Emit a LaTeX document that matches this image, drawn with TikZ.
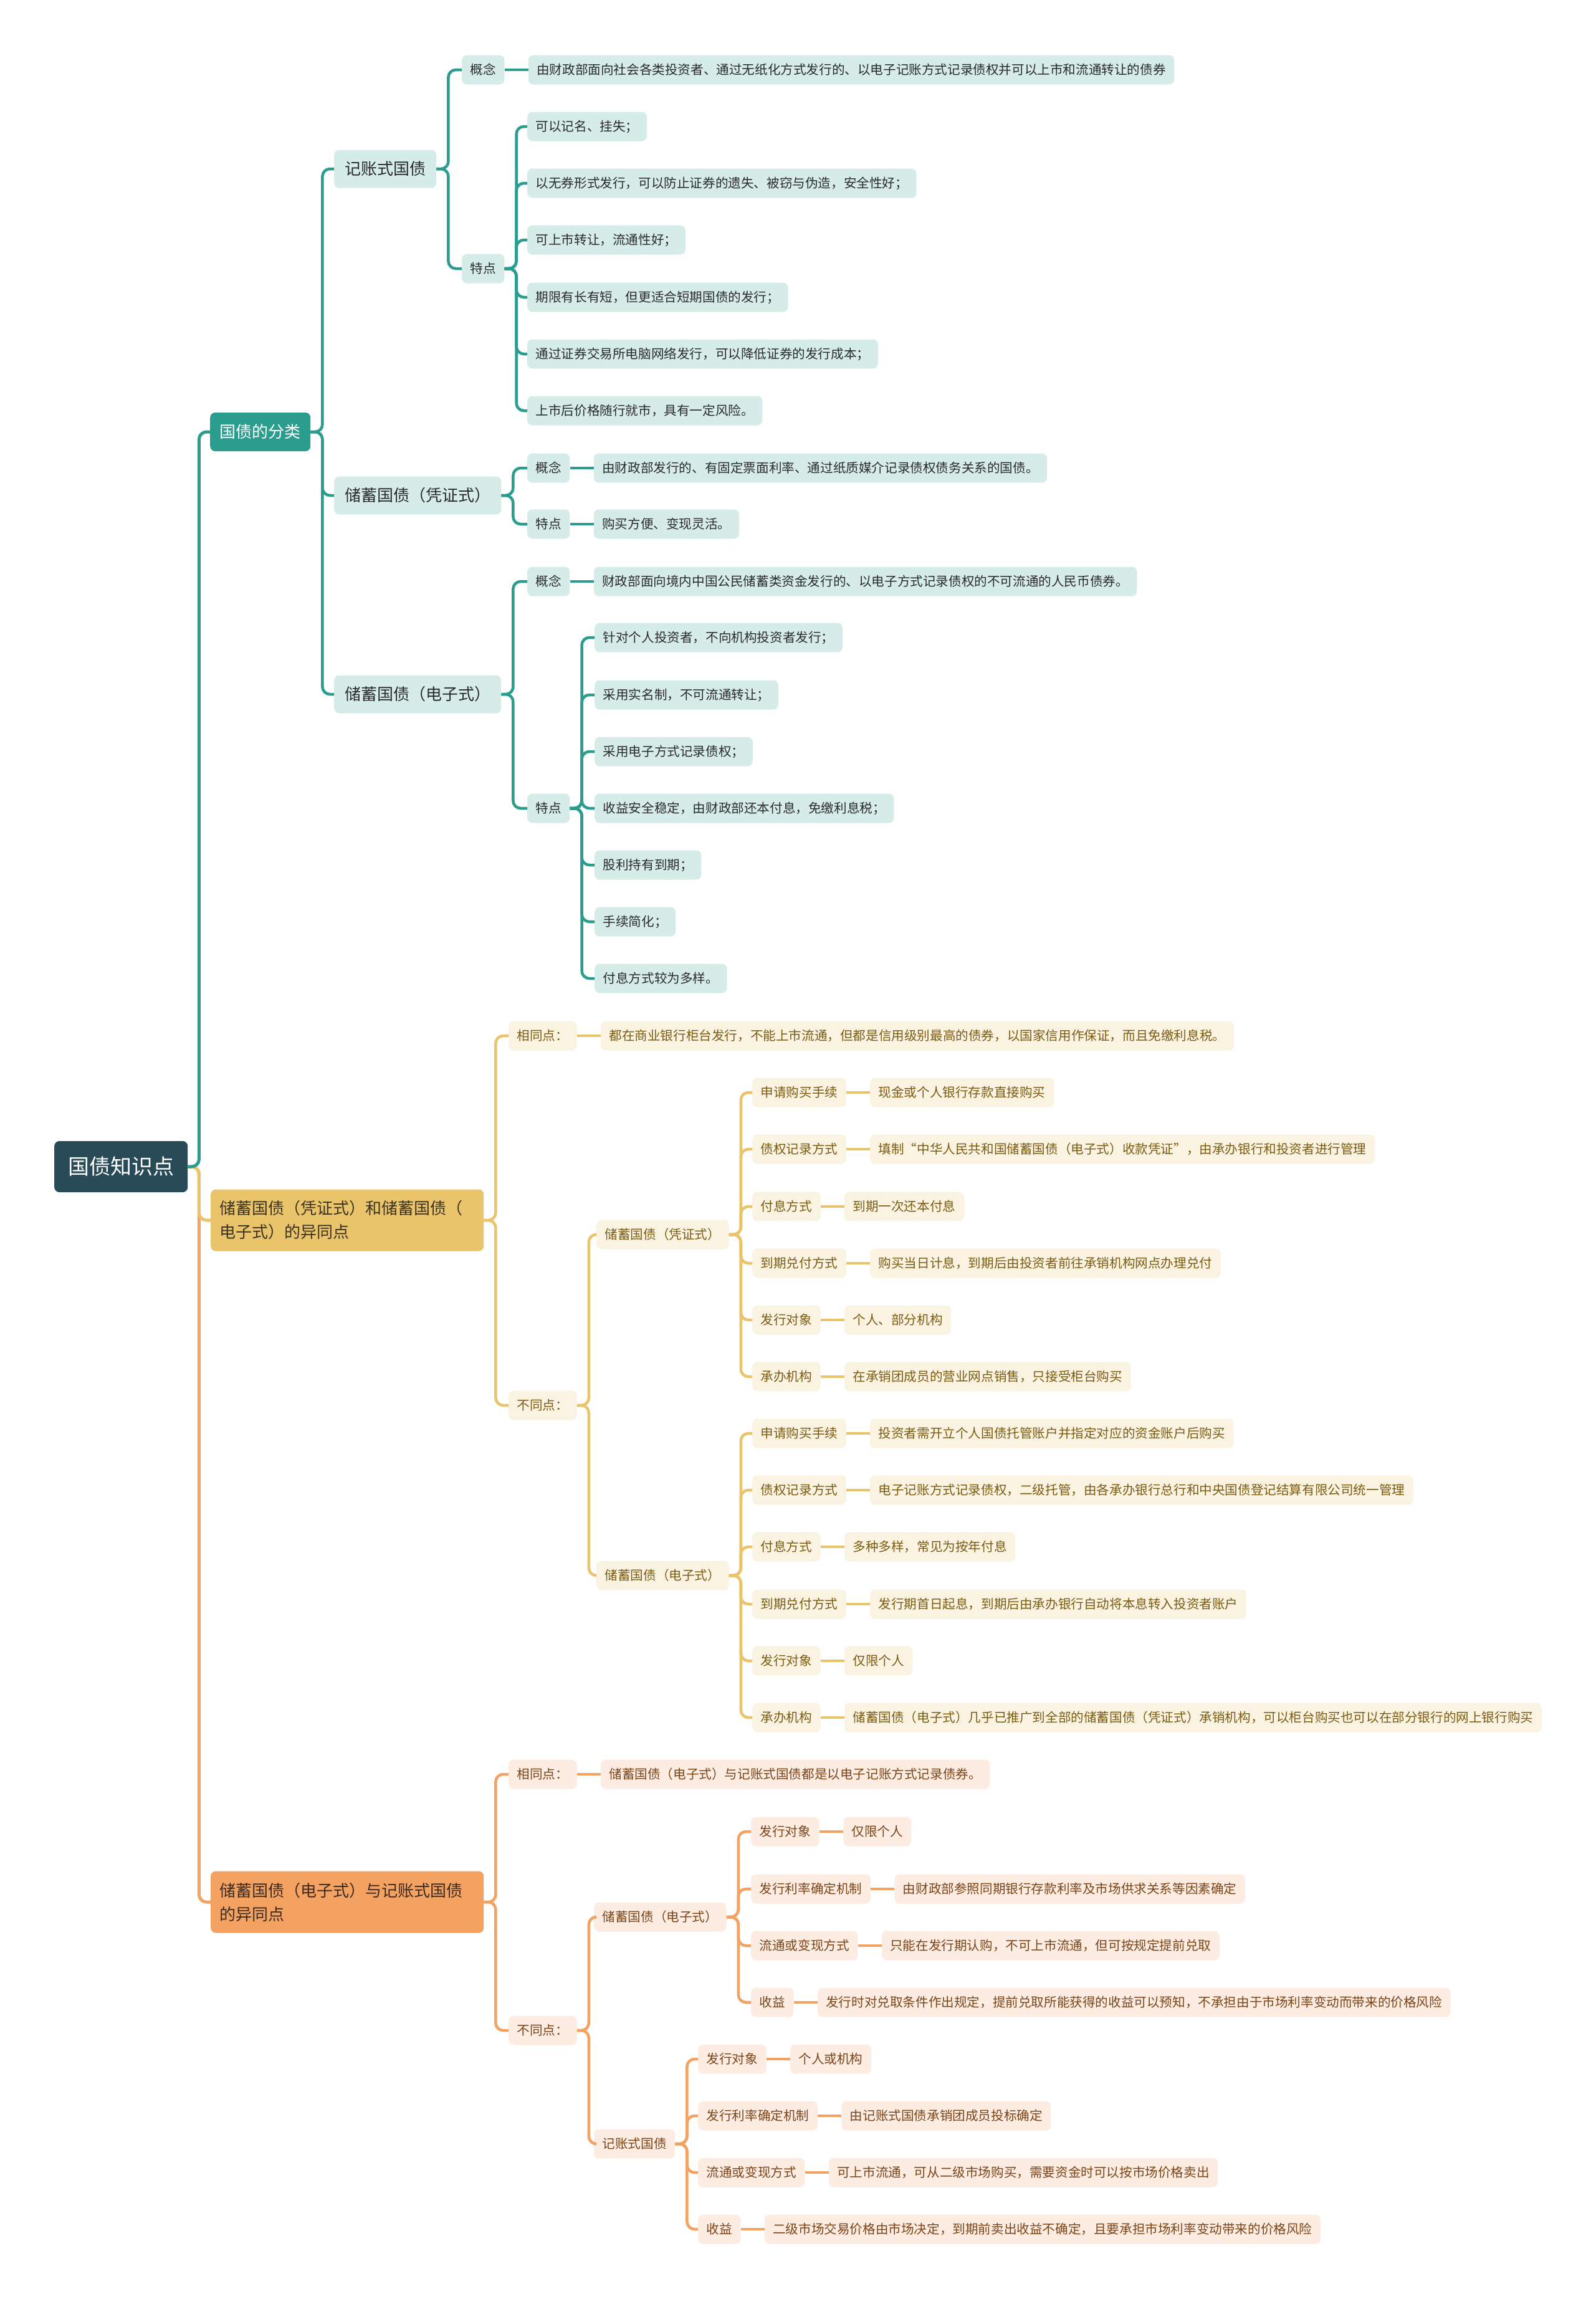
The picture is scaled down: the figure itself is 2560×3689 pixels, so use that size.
\documentclass[tikz,border=0pt]{standalone}
\usepackage{fontspec}
\newfontfamily\cjk{Noto Sans CJK SC}
\definecolor{cRoot}{HTML}{284B57}
\definecolor{cTeal}{HTML}{2A9D8F}
\definecolor{cTealL}{HTML}{D6ECE9}
\definecolor{cTealT}{HTML}{2B2B2B}
\definecolor{cYel}{HTML}{E9C46A}
\definecolor{cYelL}{HTML}{FBF3E2}
\definecolor{cYelT}{HTML}{7A5C12}
\definecolor{cYelB}{HTML}{3D3322}
\definecolor{cOra}{HTML}{F4A261}
\definecolor{cOraL}{HTML}{FDECE1}
\definecolor{cOraT}{HTML}{7A4519}
\definecolor{cOraB}{HTML}{3D2B1F}
\tikzset{
 boxbase/.style={anchor=west, rounded corners=8pt, inner ysep=0pt, inner xsep=13.5pt, minimum height=47pt, font=\cjk\fontsize{20.6}{25}\selectfont},
 tleaf/.style={boxbase, fill=cTealL, text=cTealT},
 yleaf/.style={boxbase, fill=cYelL, text=cYelT},
 oleaf/.style={boxbase, fill=cOraL, text=cOraT},
 tmid/.style={boxbase, fill=cTealL, text=cTealT, minimum height=61pt, inner xsep=17pt, font=\cjk\fontsize{26}{30}\selectfont},
 rootbox/.style={anchor=west, rounded corners=8pt, fill=cRoot, text=white, minimum height=82pt, inner ysep=0pt, inner xsep=22pt, font=\cjk\fontsize{34}{40}\selectfont},
 topbox/.style={anchor=west, rounded corners=8pt, minimum height=62pt, inner ysep=0pt, inner xsep=15.5pt, font=\cjk\fontsize{26}{30}\selectfont},
 bigbox/.style={anchor=west, rounded corners=8pt, minimum height=99pt, inner ysep=0pt, inner xsep=14pt, text width=410pt, align=left, font=\cjk\fontsize{26}{38}\selectfont},
 tcon/.style={draw=cTeal, line width=4.5pt, rounded corners=12pt},
 ycon/.style={draw=cYel, line width=4.5pt, rounded corners=12pt},
 ocon/.style={draw=cOra, line width=4.5pt, rounded corners=12pt},
}
% label + leaf pair: #1 box style, #2 line style, #3 name, #4 x, #5 y, #6 label, #7 leaf
\newcommand{\lpair}[7]{%
 \node[#1] (#3) at (#4,#5) {#6};
 \node[#1] (#3v) at ([xshift=38pt]#3.east) {#7};
 \draw[#2] (#3.east) -- (#3v.west);}
% connector parent -> child
\newcommand{\conn}[3]{\draw[#1] (#2.east) -- ++(19pt,0) |- (#3.west);}
\begin{document}
\begin{tikzpicture}[x=1pt,y=-1pt]
\fill[white] (0,0) rectangle (2560,3689);
\useasboundingbox (0,0) rectangle (2560,3689);

% root and level 1
\node[rootbox] (root) at (87,1872) {国债知识点};
\node[topbox, fill=cTeal, text=white] (t1) at (337,693) {国债的分类};
\node[bigbox, fill=cYel, text=cYelB] (y1) at (338,1958) {储蓄国债（凭证式）和储蓄国债（\\电子式）的异同点};
\node[bigbox, fill=cOra, text=cOraB] (o1) at (338,3052) {储蓄国债（电子式）与记账式国债\\的异同点};
\draw[ocon, line width=5pt] (root.east) -- ++(18pt,0) |- (o1.west);
\draw[ycon, line width=5pt] (root.east) -- ++(18pt,0) |- (y1.west);
\draw[tcon, line width=5pt] (root.east) -- ++(18pt,0) |- (t1.west);

% ---------- teal group ----------
\node[tmid] (t2a) at (536,271) {记账式国债};
\node[tmid] (t2b) at (536,795) {储蓄国债（凭证式）};
\node[tmid] (t2c) at (536,1114) {储蓄国债（电子式）};
\conn{tcon}{t1}{t2a}
\conn{tcon}{t1}{t2b}
\conn{tcon}{t1}{t2c}

\lpair{tleaf}{tcon}{ta1}{741}{112}{概念}{由财政部面向社会各类投资者、通过无纸化方式发行的、以电子记账方式记录债权并可以上市和流通转让的债券}
\node[tleaf] (ta2) at (741,431) {特点};
\conn{tcon}{t2a}{ta1}
\conn{tcon}{t2a}{ta2}
\node[tleaf] (ta2a) at (846,203) {可以记名、挂失；};
\node[tleaf] (ta2b) at (846,294) {以无券形式发行，可以防止证券的遗失、被窃与伪造，安全性好；};
\node[tleaf] (ta2c) at (846,385) {可上市转让，流通性好；};
\node[tleaf] (ta2d) at (846,477) {期限有长有短，但更适合短期国债的发行；};
\node[tleaf] (ta2e) at (846,568) {通过证券交易所电脑网络发行，可以降低证券的发行成本；};
\node[tleaf] (ta2f) at (846,659) {上市后价格随行就市，具有一定风险。};
\foreach \c in {ta2a,ta2b,ta2c,ta2d,ta2e,ta2f}{\conn{tcon}{ta2}{\c}}

\lpair{tleaf}{tcon}{tb1}{846}{751}{概念}{由财政部发行的、有固定票面利率、通过纸质媒介记录债权债务关系的国债。}
\lpair{tleaf}{tcon}{tb2}{846}{841}{特点}{购买方便、变现灵活。}
\conn{tcon}{t2b}{tb1}
\conn{tcon}{t2b}{tb2}

\lpair{tleaf}{tcon}{tc1}{846}{933}{概念}{财政部面向境内中国公民储蓄类资金发行的、以电子方式记录债权的不可流通的人民币债券。}
\node[tleaf] (tc2) at (846,1297) {特点};
\conn{tcon}{t2c}{tc1}
\conn{tcon}{t2c}{tc2}
\node[tleaf] (tc2a) at (954,1023) {针对个人投资者，不向机构投资者发行；};
\node[tleaf] (tc2b) at (954,1115) {采用实名制，不可流通转让；};
\node[tleaf] (tc2c) at (954,1206) {采用电子方式记录债权；};
\node[tleaf] (tc2d) at (954,1297) {收益安全稳定，由财政部还本付息，免缴利息税；};
\node[tleaf] (tc2e) at (954,1388) {股利持有到期；};
\node[tleaf] (tc2f) at (954,1479) {手续简化；};
\node[tleaf] (tc2g) at (954,1570) {付息方式较为多样。};
\foreach \c in {tc2a,tc2b,tc2c,tc2d,tc2e,tc2f,tc2g}{\conn{tcon}{tc2}{\c}}

% ---------- yellow group ----------
\lpair{yleaf}{ycon}{ya}{816}{1662}{相同点：}{都在商业银行柜台发行，不能上市流通，但都是信用级别最高的债券，以国家信用作保证，而且免缴利息税。}
\node[yleaf] (yb) at (816,2255) {不同点：};
\conn{ycon}{y1}{ya}
\conn{ycon}{y1}{yb}
\node[yleaf] (yb1) at (957,1981) {储蓄国债（凭证式）};
\node[yleaf] (yb2) at (957,2528) {储蓄国债（电子式）};
\conn{ycon}{yb}{yb1}
\conn{ycon}{yb}{yb2}
\lpair{yleaf}{ycon}{yp1}{1207}{1753}{申请购买手续}{现金或个人银行存款直接购买}
\lpair{yleaf}{ycon}{yp2}{1207}{1844}{债权记录方式}{填制“中华人民共和国储蓄国债（电子式）收款凭证”，由承办银行和投资者进行管理}
\lpair{yleaf}{ycon}{yp3}{1207}{1936}{付息方式}{到期一次还本付息}
\lpair{yleaf}{ycon}{yp4}{1207}{2027}{到期兑付方式}{购买当日计息，到期后由投资者前往承销机构网点办理兑付}
\lpair{yleaf}{ycon}{yp5}{1207}{2118}{发行对象}{个人、部分机构}
\lpair{yleaf}{ycon}{yp6}{1207}{2209}{承办机构}{在承销团成员的营业网点销售，只接受柜台购买}
\foreach \c in {yp1,yp2,yp3,yp4,yp5,yp6}{\conn{ycon}{yb1}{\c}}
\lpair{yleaf}{ycon}{yq1}{1207}{2300}{申请购买手续}{投资者需开立个人国债托管账户并指定对应的资金账户后购买}
\lpair{yleaf}{ycon}{yq2}{1207}{2391}{债权记录方式}{电子记账方式记录债权，二级托管，由各承办银行总行和中央国债登记结算有限公司统一管理}
\lpair{yleaf}{ycon}{yq3}{1207}{2482}{付息方式}{多种多样，常见为按年付息}
\lpair{yleaf}{ycon}{yq4}{1207}{2574}{到期兑付方式}{发行期首日起息，到期后由承办银行自动将本息转入投资者账户}
\lpair{yleaf}{ycon}{yq5}{1207}{2665}{发行对象}{仅限个人}
\lpair{yleaf}{ycon}{yq6}{1207}{2756}{承办机构}{储蓄国债（电子式）几乎已推广到全部的储蓄国债（凭证式）承销机构，可以柜台购买也可以在部分银行的网上银行购买}
\foreach \c in {yq1,yq2,yq3,yq4,yq5,yq6}{\conn{ycon}{yb2}{\c}}

% ---------- orange group ----------
\lpair{oleaf}{ocon}{oa}{816}{2847}{相同点：}{储蓄国债（电子式）与记账式国债都是以电子记账方式记录债券。}
\node[oleaf] (ob) at (816,3258) {不同点：};
\conn{ocon}{o1}{oa}
\conn{ocon}{o1}{ob}
\node[oleaf] (ob1) at (953,3076) {储蓄国债（电子式）};
\node[oleaf] (ob2) at (953,3440) {记账式国债};
\conn{ocon}{ob}{ob1}
\conn{ocon}{ob}{ob2}
\lpair{oleaf}{ocon}{op1}{1205}{2939}{发行对象}{仅限个人}
\lpair{oleaf}{ocon}{op2}{1205}{3031}{发行利率确定机制}{由财政部参照同期银行存款利率及市场供求关系等因素确定}
\lpair{oleaf}{ocon}{op3}{1205}{3122}{流通或变现方式}{只能在发行期认购，不可上市流通，但可按规定提前兑取}
\lpair{oleaf}{ocon}{op4}{1205}{3213}{收益}{发行时对兑取条件作出规定，提前兑取所能获得的收益可以预知，不承担由于市场利率变动而带来的价格风险}
\foreach \c in {op1,op2,op3,op4}{\conn{ocon}{ob1}{\c}}
\lpair{oleaf}{ocon}{oq1}{1120}{3304}{发行对象}{个人或机构}
\lpair{oleaf}{ocon}{oq2}{1120}{3395}{发行利率确定机制}{由记账式国债承销团成员投标确定}
\lpair{oleaf}{ocon}{oq3}{1120}{3486}{流通或变现方式}{可上市流通，可从二级市场购买，需要资金时可以按市场价格卖出}
\lpair{oleaf}{ocon}{oq4}{1120}{3577}{收益}{二级市场交易价格由市场决定，到期前卖出收益不确定，且要承担市场利率变动带来的价格风险}
\foreach \c in {oq1,oq2,oq3,oq4}{\conn{ocon}{ob2}{\c}}
\end{tikzpicture}
\end{document}
